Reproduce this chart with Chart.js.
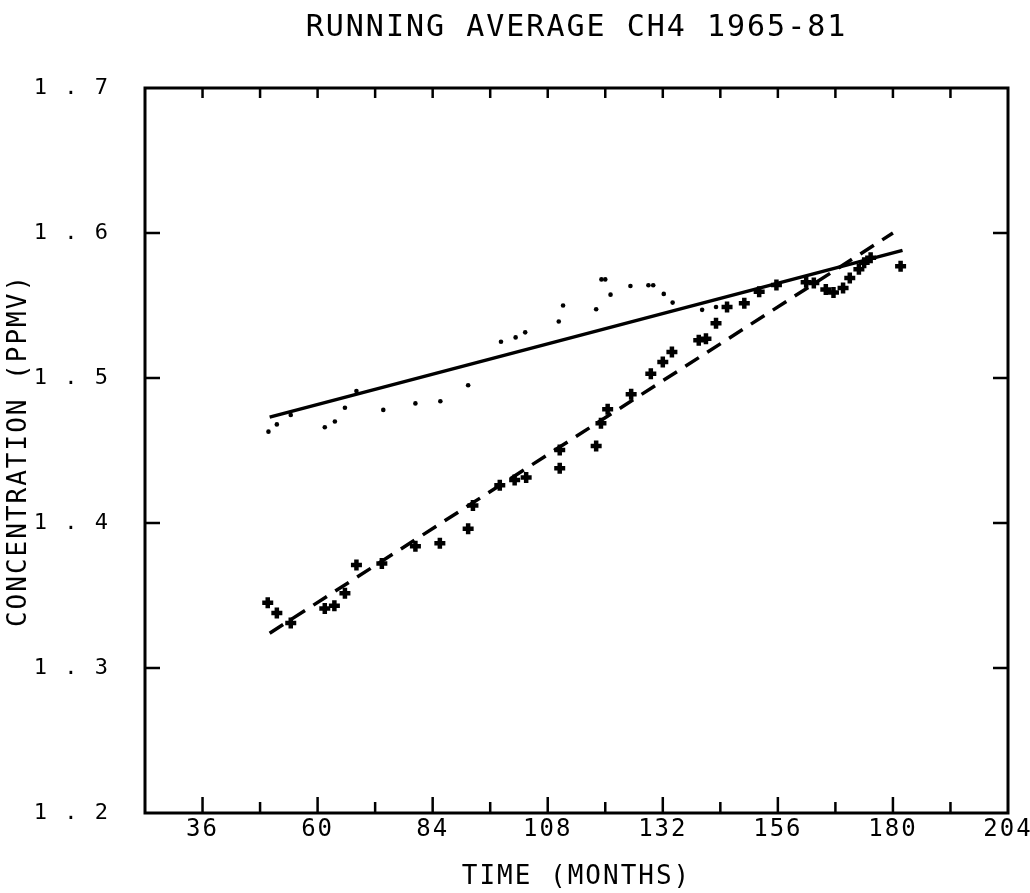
<!DOCTYPE html>
<html>
<head>
<meta charset="utf-8">
<title>Running average CH4 1965-81</title>
<script src="https://cdn.jsdelivr.net/npm/chart.js@4.4.1/dist/chart.umd.min.js"></script>
<style>
    html, body { margin: 0; padding: 0; background: #fff; }
    #chart-box { width: 1030px; height: 893px; }
</style>
</head>
<body>
<div id="chart-box"><canvas id="ch4-chart" width="1030" height="893"></canvas></div>
<script>
    "use strict";

    // running average samples (months since start, ppmv)
    var dotMonths = [49.75, 51.5, 54.4, 61.5, 63.6, 65.7, 68.1, 73.7, 80.4, 85.6, 91.4, 98.25, 101.3, 103.3,
        110.3, 111.2, 118.1, 119.2, 120.0, 121.1, 125.25, 129.0, 130.0, 132.2, 134.05, 140.2, 143.1];
    var dotValues = [1.463, 1.468, 1.4745, 1.466, 1.470, 1.4795, 1.491, 1.478, 1.4825, 1.484, 1.495, 1.525, 1.528, 1.5315,
        1.539, 1.550, 1.5474, 1.568, 1.568, 1.5575, 1.5634, 1.564, 1.564, 1.558, 1.552, 1.547, 1.549];

    var plusMonths = [49.6, 51.5, 54.4, 61.5, 63.5, 65.7, 68.1, 73.4, 80.4, 85.5, 91.4, 92.4, 98.0, 101.1, 103.5,
        110.5, 110.5, 118.1, 119.1, 120.5, 125.4, 129.5, 132.0, 133.9, 139.5, 141.0, 143.1, 145.4, 149.0, 152.1,
        155.7, 161.9, 163.5, 166.0, 167.6, 169.6, 171.0, 172.9, 174.0, 175.35, 181.6];
    var plusValues = [1.345, 1.338, 1.331, 1.341, 1.343, 1.3515, 1.371, 1.372, 1.384, 1.386, 1.396, 1.412, 1.426, 1.4297, 1.4313,
        1.4503, 1.4377, 1.4531, 1.4688, 1.4784, 1.4888, 1.503, 1.511, 1.518, 1.526, 1.527, 1.5377, 1.549, 1.5515, 1.5595,
        1.5641, 1.566, 1.5655, 1.561, 1.559, 1.562, 1.569, 1.575, 1.5795, 1.583, 1.577];

    // fitted trends: end points
    var solidMonths = [50, 182];
    var solidValues = [1.473, 1.588];
    var dashMonths = [50, 180];
    var dashValues = [1.324, 1.600];

    var xMin = 24, xMax = 204, xStep = 12;
    var yMin = 1.2, yMax = 1.7, yStep = 0.1;
    var xLabelEvery = 24, xLabelFrom = 36;

    var monoFont = "'DejaVu Sans Mono', 'Liberation Mono', monospace";

    function toPoints(xs, ys) {
        return xs.map(function (x, i) { return { x: x, y: ys[i] }; });
    }

    // plotter-style spacing between characters
    var letterSpacing = {
        id: 'letterSpacing',
        beforeLayout: function (chart) { chart.ctx.letterSpacing = '2px'; },
        beforeDraw: function (chart) {
            var ctx = chart.ctx;
            ctx.save();
            ctx.fillStyle = '#fff';
            ctx.fillRect(0, 0, chart.width, chart.height);
            ctx.restore();
            ctx.letterSpacing = '2px';
        }
    };

    // closed frame with inward ticks on all four sides
    var frameTicks = {
        id: 'frameTicks',
        afterDraw: function (chart) {
            var ctx = chart.ctx, a = chart.chartArea;
            var xs = chart.scales.x, ys = chart.scales.y;
            ctx.save();
            ctx.strokeStyle = '#000';
            ctx.lineCap = 'butt';
            ctx.lineWidth = 2.5;
            xs.ticks.forEach(function (t) {
                if (t.value <= xMin || t.value >= xMax) return;
                var px = xs.getPixelForValue(t.value);
                var major = (t.value - xLabelFrom) % xLabelEvery === 0;
                ctx.beginPath();
                ctx.moveTo(px, a.bottom);
                ctx.lineTo(px, a.bottom - (major ? 16 : 11));
                ctx.moveTo(px, a.top);
                ctx.lineTo(px, a.top + 10);
                ctx.stroke();
            });
            ys.ticks.forEach(function (t) {
                if (t.value <= yMin + 1e-6 || t.value >= yMax - 1e-6) return;
                var py = ys.getPixelForValue(t.value);
                ctx.beginPath();
                ctx.moveTo(a.left, py);
                ctx.lineTo(a.left + 15, py);
                ctx.moveTo(a.right, py);
                ctx.lineTo(a.right - 15, py);
                ctx.stroke();
            });
            ctx.lineWidth = 3;
            ctx.strokeRect(a.left, a.top, a.right - a.left, a.bottom - a.top);
            ctx.restore();
        }
    };

    new Chart(document.getElementById('ch4-chart').getContext('2d'), {
        type: 'scatter',
        data: {
            datasets: [
                {
                    label: 'Running average',
                    data: toPoints(dotMonths, dotValues),
                    pointStyle: 'circle',
                    pointRadius: 2.3,
                    backgroundColor: '#000',
                    borderColor: '#000',
                    borderWidth: 0
                },
                {
                    label: 'Samples',
                    data: toPoints(plusMonths, plusValues),
                    pointStyle: 'cross',
                    pointRadius: 5.5,
                    borderWidth: 4.5,
                    borderColor: '#000',
                    backgroundColor: '#000'
                },
                {
                    label: 'Trend',
                    data: toPoints(solidMonths, solidValues),
                    showLine: true,
                    borderColor: '#000',
                    borderWidth: 3.5,
                    pointRadius: 0
                },
                {
                    label: 'Trend (samples)',
                    data: toPoints(dashMonths, dashValues),
                    showLine: true,
                    borderColor: '#000',
                    borderWidth: 3.5,
                    borderDash: [16, 10],
                    pointRadius: 0
                }
            ]
        },
        options: {
            responsive: false,
            animation: false,
            layout: { padding: { left: 0, right: 22, top: 0, bottom: 0 } },
            plugins: {
                legend: { display: false },
                tooltip: { enabled: false },
                title: {
                    display: true,
                    fullSize: false,
                    text: 'RUNNING AVERAGE CH4 1965-81',
                    color: '#000',
                    font: { family: monoFont, size: 30, weight: 'normal', lineHeight: 1.2 },
                    padding: { top: 10, bottom: 42 }
                }
            },
            scales: {
                x: {
                    type: 'linear',
                    min: xMin,
                    max: xMax,
                    grid: { display: false, drawTicks: false },
                    border: { display: false },
                    ticks: {
                        stepSize: xStep,
                        autoSkip: false,
                        maxRotation: 0,
                        padding: 2,
                        color: '#000',
                        font: { family: monoFont, size: 24 },
                        callback: function (v) {
                            return (v - xLabelFrom) % xLabelEvery === 0 ? String(v) : '';
                        }
                    },
                    title: {
                        display: true,
                        text: 'TIME (MONTHS)',
                        color: '#000',
                        font: { family: monoFont, size: 26 },
                        padding: { top: 0, bottom: 0 }
                    },
                    afterFit: function (s) {
                        s.height = 80;
                        s.paddingLeft = 0;
                        s.paddingRight = 0;
                    }
                },
                y: {
                    type: 'linear',
                    min: yMin,
                    max: yMax,
                    grid: { display: false, drawTicks: false },
                    border: { display: false },
                    ticks: {
                        stepSize: yStep,
                        padding: 35,
                        color: '#000',
                        font: { family: monoFont, size: 22 },
                        callback: function (v) {
                            return v.toFixed(1).split('').join(' ');
                        }
                    },
                    title: {
                        display: true,
                        text: 'CONCENTRATION (PPMV)',
                        color: '#000',
                        font: { family: monoFont, size: 26 },
                        padding: { top: 4, bottom: 0 }
                    },
                    afterFit: function (s) {
                        s.width = 145;
                        s.paddingTop = 0;
                        s.paddingBottom = 0;
                    }
                }
            }
        },
        plugins: [letterSpacing, frameTicks]
    });
</script>
</body>
</html>
